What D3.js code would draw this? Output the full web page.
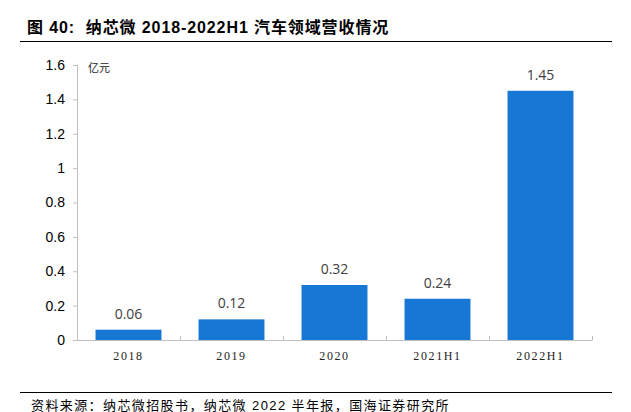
<!DOCTYPE html>
<html>
<head>
<meta charset="utf-8">
<script src="https://cdn.jsdelivr.net/npm/d3@7"></script>
<style>
  body { margin: 0; background: #fff; }
  svg { display: block; }
</style>
</head>
<body>
<div id="chart"></div>
<script>
var categories = ["2018", "2019", "2020", "2021H1", "2022H1"];
var values = [0.06, 0.12, 0.32, 0.24, 1.45];
var yTicks = [0, 0.2, 0.4, 0.6, 0.8, 1, 1.2, 1.4, 1.6];
var title = "图 40:  纳芯微 2018-2022H1 汽车领域营收情况";
var unit = "亿元";
var source = "资料来源：纳芯微招股书，纳芯微 2022 半年报，国海证券研究所";

var width = 631, height = 412;
var plotLeft = 77, plotRight = 592, plotTop = 65, plotBottom = 340;
var cjk = "'Liberation Sans', 'Noto Sans CJK SC', sans-serif";

var svg = d3.select("#chart")
    .append("svg")
    .attr("width", width)
    .attr("height", height);

// titre + filets
svg.append("text")
    .attr("x", 27)
    .attr("y", 33)
    .attr("font-family", cjk)
    .attr("font-weight", "bold")
    .attr("font-size", 16)
    .attr("letter-spacing", 0.9)
    .attr("fill", "#000")
    .attr("xml:space", "preserve")
    .text(title);

svg.append("line")
    .attr("x1", 20).attr("x2", 612)
    .attr("y1", 41.5).attr("y2", 41.5)
    .attr("stroke", "#000").attr("stroke-width", 1.2);

svg.append("line")
    .attr("x1", 20).attr("x2", 612)
    .attr("y1", 392.5).attr("y2", 392.5)
    .attr("stroke", "#000").attr("stroke-width", 1.2);

svg.append("text")
    .attr("x", 31)
    .attr("y", 410)
    .attr("font-family", cjk)
    .attr("font-size", 13)
    .attr("letter-spacing", 1.4)
    .attr("fill", "#000")
    .text(source);

var x = d3.scaleBand()
    .domain(categories)
    .range([plotLeft, plotRight])
    .paddingInner(0.36)
    .paddingOuter(0.18);

var y = d3.scaleLinear()
    .domain([0, 1.6])
    .range([plotBottom, plotTop]);

// axe y
var yAxis = svg.append("g")
    .attr("transform", "translate(" + plotLeft + ",0)")
    .call(d3.axisLeft(y).tickValues(yTicks).tickSize(4).tickFormat(d3.format("")));
yAxis.select(".domain").attr("stroke", "#bfbfbf").attr("d", "M0.5," + plotTop + "V" + plotBottom);
yAxis.selectAll(".tick line").attr("stroke", "#bfbfbf");
yAxis.selectAll(".tick text")
    .attr("x", -12)
    .attr("font-family", "'Liberation Sans', Arial, sans-serif")
    .attr("font-size", 14)
    .attr("fill", "#000");

// axe x
var xTickPos = categories.slice(1).map(function(c) { return x(c) - x.step() * x.paddingInner() / 2; });
var xAxis = svg.append("g")
    .attr("transform", "translate(0," + plotBottom + ")");
xAxis.append("line")
    .attr("x1", plotLeft).attr("x2", plotRight)
    .attr("y1", 0.5).attr("y2", 0.5)
    .attr("stroke", "#bfbfbf");
xAxis.selectAll(".xt")
    .data(xTickPos.concat([plotRight]))
    .enter().append("line")
    .attr("x1", function(d) { return Math.round(d) + 0.5; })
    .attr("x2", function(d) { return Math.round(d) + 0.5; })
    .attr("y1", -4).attr("y2", 0.5)
    .attr("stroke", "#bfbfbf");
xAxis.selectAll(".xl")
    .data(categories)
    .enter().append("text")
    .attr("x", function(d) { return x(d) + x.bandwidth() / 2; })
    .attr("y", 20)
    .attr("text-anchor", "middle")
    .attr("font-family", "'Liberation Serif', 'DejaVu Serif', serif")
    .attr("font-size", 12)
    .attr("letter-spacing", 1.6)
    .attr("fill", "#222")
    .text(function(d) { return d; });

// unité
svg.append("text")
    .attr("x", 88)
    .attr("y", 72)
    .attr("font-family", "'Noto Sans CJK SC', sans-serif")
    .attr("font-size", 11)
    .attr("fill", "#222")
    .text(unit);

// barres
svg.selectAll(".bar")
    .data(values)
    .enter().append("rect")
    .attr("x", function(d, i) { return x(categories[i]); })
    .attr("y", function(d) { return y(d); })
    .attr("width", x.bandwidth())
    .attr("height", function(d) { return plotBottom - y(d); })
    .attr("fill", "#1677d4");

svg.selectAll(".val")
    .data(values)
    .enter().append("text")
    .attr("x", function(d, i) { return x(categories[i]) + x.bandwidth() / 2; })
    .attr("y", function(d) { return y(d) - 11; })
    .attr("text-anchor", "middle")
    .attr("font-family", "'Open Sans', sans-serif")
    .attr("font-size", 14)
    .attr("fill", "#404040")
    .text(function(d) { return d; });
</script>
</body>
</html>
